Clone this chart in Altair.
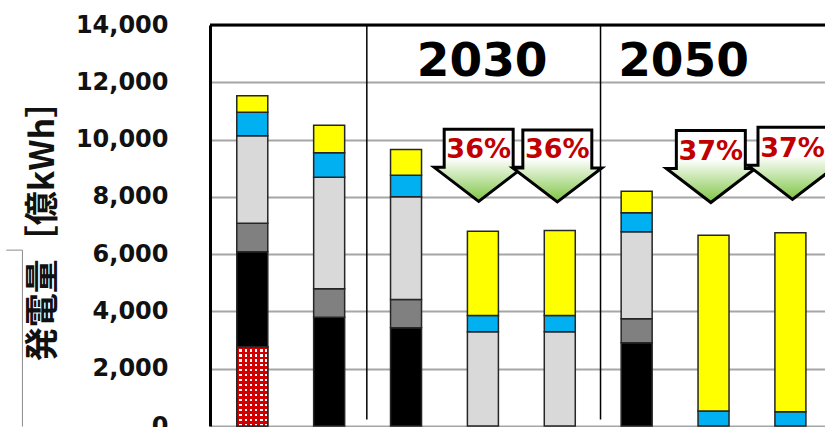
import altair as alt
import pandas as pd

# ---- data (億kWh) ----
bars = ["b1", "b2", "b3", "b4", "b5", "b6", "b7", "b8"]
series = ["原子力", "石炭", "石油", "LNG", "水力", "再エネ"]
nuclear = [2770, 0, 0, 0, 0, 0, 0, 0]
coal = [3316, 3800, 3430, 0, 0, 2906, 0, 0]
oil = [990, 991, 988, 0, 0, 838, 0, 0]
lng = [3060, 3895, 3582, 3290, 3290, 3036, 0, 0]
hydro = [816, 851, 756, 569, 569, 663, 520, 500]
renew = [580, 963, 896, 2942, 2966, 754, 6142, 6245]
colors = ["#D00000", "#000000", "#808080", "#D9D9D9", "#00B0F0", "#FFFF00"]

arrow_x = [2.945, 3.968, 5.965, 7.027]
arrow_labels = ["36%", "36%", "37%", "37%"]
year_labels = ["2030", "2050"]
year_x = [2.99, 5.61]
divider_x = [1.49, 4.53]
y_ticks = [0, 2000, 4000, 6000, 8000, 10000, 12000, 14000]

# ---- tables ----
rows = []
for i in range(len(bars)):
    base = 0
    for s, vals in zip(series, [nuclear, coal, oil, lng, hydro, renew]):
        v = vals[i]
        if v > 0:
            rows.append({"idx": i, "series": s, "y0": base, "y1": base + v})
        base += v
df = pd.DataFrame(rows)
df_nuc = df[df["series"] == "原子力"]

df_arrow = pd.DataFrame({"idx": arrow_x, "lab": arrow_labels,
                         "ya": [9100, 9080, 9060, 9170], "yt": [9620, 9620, 9560, 9680]})
df_year = pd.DataFrame({"idx": year_x, "lab": year_labels, "y": [12720] * 2})
df_div = pd.DataFrame({"idx": divider_x, "y": [14000] * 2, "y2": [230] * 2})
df_top = pd.DataFrame({"y": [14000]})
# small bracket-shaped frame line at the far left (outside the plot)
df_frame_v = pd.DataFrame({"idx": [-2.99], "y": [6140], "y2": [-20]})
df_frame_h = pd.DataFrame({"idx": [-3.2], "idx2": [-2.99], "y": [6140]})

W, H = 615, 401
xs = alt.Scale(domain=[-0.485, 7.385], nice=False, zero=False)
ys = alt.Scale(domain=[0, 14000], nice=False)

yaxis = alt.Axis(values=y_ticks, format=",.0f", ticks=False,
                 labelPadding=42, labelFont="DejaVu Sans", labelFontWeight="bold",
                 labelFontSize=24, labelColor="#111111",
                 grid=True, gridColor="#A6A6A6", gridWidth=2,
                 domainColor="#000000", domainWidth=3,
                 title="発電量［億kWh］", titleFont="Noto Sans CJK JP",
                 titleFontSize=34, titleFontWeight="bold", titleColor="#111111",
                 titleAngle=270, titleX=-167, titleY=197,
                 titleAlign="center", titleBaseline="middle")


def X(f="idx"):
    return alt.X(f + ":Q", scale=xs, axis=None)


def Y(f):
    return alt.Y(f + ":Q", scale=ys, axis=yaxis)


bar_layer = alt.Chart(df).mark_bar(size=31, stroke="#262626", strokeWidth=1.5).encode(
    x=X(), y=Y("y0"), y2="y1:Q",
    color=alt.Color("series:N", scale=alt.Scale(domain=series, range=colors), legend=None),
)

# checker-like pattern for the nuclear segment
n_rows, n_cols = 16, 6
hstops = []
for k in range(n_rows):
    a, m, b = k / n_rows, (k + 0.5) / n_rows, (k + 1) / n_rows
    hstops += [alt.GradientStop(color="rgba(255,255,255,0)", offset=a),
               alt.GradientStop(color="rgba(255,255,255,0)", offset=m),
               alt.GradientStop(color="#FFFFFF", offset=m),
               alt.GradientStop(color="#FFFFFF", offset=b)]
vstops = []
for k in range(n_cols):
    a, m, b = k / n_cols, (k + 0.5) / n_cols, (k + 1) / n_cols
    vstops += [alt.GradientStop(color="#D00000", offset=a),
               alt.GradientStop(color="#D00000", offset=m),
               alt.GradientStop(color="rgba(208,0,0,0)", offset=m),
               alt.GradientStop(color="rgba(208,0,0,0)", offset=b)]
hgrad = alt.Gradient(gradient="linear", stops=hstops, x1=0, x2=0, y1=0, y2=1)
vgrad = alt.Gradient(gradient="linear", stops=vstops, x1=0, x2=1, y1=0, y2=0)

nuc_h = alt.Chart(df_nuc).mark_bar(size=31, fill=hgrad, strokeWidth=0).encode(
    x=X(), y=Y("y0"), y2="y1:Q")
nuc_v = alt.Chart(df_nuc).mark_bar(size=31, fill=vgrad, stroke="#262626",
                                   strokeWidth=1.5).encode(
    x=X(), y=Y("y0"), y2="y1:Q")

dividers = alt.Chart(df_div).mark_rule(color="#000000", strokeWidth=1.5).encode(
    x=X(), y=Y("y"), y2="y2:Q")

top_border = alt.Chart(df_top).mark_rule(color="#000000", strokeWidth=3).encode(
    y=Y("y"))

frame_v = alt.Chart(df_frame_v).mark_rule(color="#8C8C8C", strokeWidth=1).encode(
    x=X(), y=Y("y"), y2="y2:Q")
frame_h = alt.Chart(df_frame_h).mark_rule(color="#8C8C8C", strokeWidth=1).encode(
    x=X(), x2="idx2:Q", y=Y("y"))

arrow_path = ("M -0.775 -0.809 L 0.775 -0.809 L 0.775 0.045 L 1 0.045 "
              "L 0 0.809 L -1 0.045 L -0.775 0.045 Z")
agrad = alt.Gradient(gradient="linear",
                     stops=[alt.GradientStop(color="#FFFFFF", offset=0),
                            alt.GradientStop(color="#FFFFFF", offset=0.4),
                            alt.GradientStop(color="#7DC443", offset=1)],
                     x1=0, x2=0, y1=0, y2=1)
arrows = alt.Chart(df_arrow).mark_point(
    shape=arrow_path, size=7921, filled=True, fill=agrad, stroke="#000000",
    strokeWidth=3, opacity=1).encode(x=X(), y=Y("ya"))

pct = alt.Chart(df_arrow).mark_text(
    font="DejaVu Sans", fontWeight="bold", fontSize=27, color="#C00000",
    align="center", baseline="middle").encode(
    x=X(), y=Y("yt"), text="lab:N")

years = alt.Chart(df_year).mark_text(
    font="DejaVu Sans", fontWeight="bold", fontSize=47, color="#000000",
    align="center", baseline="middle").encode(
    x=X(), y=Y("y"), text="lab:N")

chart = alt.layer(bar_layer, nuc_h, nuc_v, dividers, top_border, frame_v, frame_h,
                  arrows, pct, years).properties(
    width=W, height=H,
    autosize=alt.AutoSizeParams(type="none"),
    padding={"left": 210, "top": 25, "right": 0, "bottom": 1},
).configure_view(strokeWidth=0)

chart.save("out.html", embed_options={"renderer": "svg", "actions": False})
